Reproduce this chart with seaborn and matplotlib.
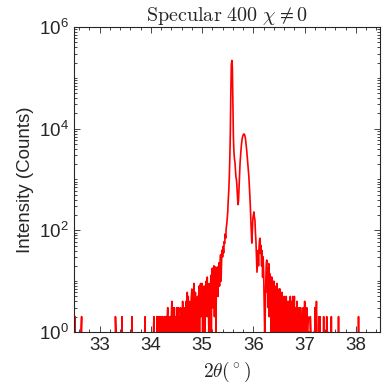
import numpy as np
import pandas as pd
import matplotlib
matplotlib.use("Agg")
import matplotlib.pyplot as plt
import matplotlib.ticker as mticker
import seaborn as sns

# scan: 2theta from 32.50 to 38.50 deg, step 0.01 deg
scan_start = 32.50
scan_step = 0.01

# counts, one row = 0.1 deg (row start angle in the comment)
counts = [
    0, 1, 2, 0, 0, 0, 0, 0, 0, 0,            # 32.5
    0, 0, 0, 0, 1, 2, 0, 0, 0, 0,            # 32.6
    0, 0, 0, 0, 0, 0, 0, 0, 0, 0,            # 32.7
    0, 0, 0, 0, 0, 0, 0, 0, 0, 0,            # 32.8
    0, 0, 0, 0, 0, 0, 0, 0, 0, 0,            # 32.9
    0, 0, 0, 0, 0, 0, 0, 0, 0, 0,            # 33.0
    0, 0, 0, 0, 0, 0, 0, 0, 0, 0,            # 33.1
    0, 0, 0, 0, 0, 0, 0, 0, 0, 0,            # 33.2
    0, 2, 1, 0, 0, 0, 0, 0, 0, 0,            # 33.3
    0, 0, 0, 0, 2, 0, 0, 0, 0, 0,            # 33.4
    0, 0, 0, 0, 0, 0, 0, 0, 0, 0,            # 33.5
    0, 0, 0, 2, 0, 0, 0, 0, 0, 0,            # 33.6
    0, 0, 0, 0, 0, 0, 0, 0, 0, 0,            # 33.7
    0, 0, 0, 0, 0, 0, 0, 0, 1, 2,            # 33.8
    0, 0, 0, 0, 0, 0, 0, 0, 0, 0,            # 33.9
    0, 0, 0, 0, 0, 1, 2, 0, 0, 0,            # 34.0
    0, 0, 2, 1, 2, 0, 1, 2, 0, 0,            # 34.1
    2, 0, 2, 1, 0, 1, 2, 0, 2, 0,            # 34.2
    2, 1, 2, 3, 1, 0, 2, 1, 2, 1,            # 34.3
    2, 4, 1, 3, 0, 2, 3, 1, 2, 0,            # 34.4
    1, 3, 0, 2, 3, 1, 2, 0, 3, 1,            # 34.5
    2, 0, 4, 1, 3, 0, 2, 3, 1, 4,            # 34.6
    1, 6, 2, 5, 0, 3, 4, 1, 2, 5,            # 34.7
    7, 1, 3, 2, 9, 0, 4, 6, 1, 3,            # 34.8
    2, 5, 0, 4, 8, 1, 6, 9, 2, 4,            # 34.9
    9, 1, 5, 3, 8, 0, 6, 2, 10, 3,           # 35.0
    12, 2, 7, 1, 9, 4, 3, 13, 1, 8,          # 35.1
    18, 3, 10, 20, 2, 12, 19, 1, 14, 6,      # 35.2
    19, 5, 12, 23, 8, 20, 33, 10, 25, 41,    # 35.3
    30, 48, 36, 60, 55, 85, 70, 110, 130, 170,                       # 35.4
    230, 400, 600, 1100, 2500, 8000, 50000, 180000, 220000, 160000,  # 35.5
    30000, 7000, 3500, 2600, 2200, 1500, 1100, 1000, 700, 450,       # 35.6
    320, 380, 700, 1300, 2100, 3000, 4000, 5200, 6200, 7000,         # 35.7
    7500, 7800, 7800, 7500, 6800, 5800, 4700, 3700, 2800, 2100,      # 35.8
    1600, 1200, 800, 500, 300, 160, 90, 56, 100, 170,                # 35.9
    200, 230, 180, 160, 90, 60, 30, 15, 25, 40,  # 36.0
    20, 45, 65, 70, 35, 50, 20, 40, 12, 30,      # 36.1
    15, 4, 1, 2, 8, 20, 26, 6, 18, 3,            # 36.2
    22, 2, 14, 5, 12, 1, 12, 0, 9, 3,            # 36.3
    10, 1, 6, 0, 8, 2, 9, 0, 5, 1,               # 36.4
    7, 0, 7, 2, 5, 1, 6, 0, 4, 2,                # 36.5
    5, 1, 4, 0, 5, 2, 3, 0, 4, 1,                # 36.6
    3, 0, 5, 1, 4, 2, 0, 5, 1, 3,                # 36.7
    5, 0, 3, 1, 2, 4, 0, 2, 1, 3,                # 36.8
    2, 0, 3, 1, 2, 0, 2, 3, 0, 1,                # 36.9
    4, 1, 2, 0, 3, 1, 2, 0, 1, 0,                # 37.0
    0, 2, 1, 0, 0, 0, 0, 0, 1, 0,                # 37.1
    3, 1, 2, 4, 1, 0, 0, 0, 2, 0,                # 37.2
    2, 0, 0, 0, 0, 0, 0, 2, 0, 0,                # 37.3
    0, 0, 0, 2, 0, 1, 0, 0, 0, 0,                # 37.4
    0, 0, 2, 0, 0, 0, 0, 0, 0, 0,                # 37.5
    0, 0, 0, 0, 0, 0, 2, 0, 0, 0,                # 37.6
    0, 0, 0, 0, 0, 0, 0, 0, 0, 0,                # 37.7
    0, 0, 0, 0, 0, 0, 0, 0, 0, 0,                # 37.8
    0, 0, 0, 0, 0, 0, 0, 0, 0, 0,                # 37.9
    0, 0, 0, 0, 0, 2, 0, 0, 0, 0,                # 38.0
    0, 0, 0, 0, 0, 0, 0, 0, 0, 0,                # 38.1
    0, 0, 0, 0, 0, 0, 0, 0, 0, 0,                # 38.2
    0, 0, 0, 0, 0, 0, 0, 0, 0, 0,                # 38.3
    0, 0, 0, 0, 0, 0, 0, 0, 0, 0,                # 38.4
    0,                                           # 38.5
]

x_ticks = [33, 34, 35, 36, 37, 38]
y_ticks = [1e0, 1e2, 1e4, 1e6]

two_theta = np.round(scan_start + scan_step * np.arange(len(counts)), 2)
df = pd.DataFrame({"two_theta": two_theta, "counts": counts})

sns.set_style("ticks")
plt.rcParams["font.family"] = ["Liberation Sans", "DejaVu Sans"]
plt.rcParams["mathtext.fontset"] = "cm"

fig = plt.figure(figsize=(3.89, 3.91), dpi=100)
ax = fig.add_axes([0.190, 0.151, 0.787, 0.780])

sns.lineplot(data=df, x="two_theta", y="counts", ax=ax, color="red",
             linewidth=1.2, estimator=None, sort=False)
ax.set_yscale("log")

ax.set_xlim(32.5, 38.47)
ax.set_ylim(1, 1e6)
ax.set_xticks(x_ticks)
ax.set_yticks(y_ticks)
ax.xaxis.set_minor_locator(mticker.MultipleLocator(0.2))
ax.yaxis.set_minor_locator(mticker.LogLocator(base=10, subs=np.arange(1, 10), numticks=20))
ax.yaxis.set_minor_formatter(mticker.NullFormatter())

ax.tick_params(which="both", direction="in", top=True, right=True,
               colors="0.15", labelsize=13.5, width=0.6)
ax.tick_params(which="major", length=4)
ax.tick_params(which="minor", length=2.5)
for s in ax.spines.values():
    s.set_linewidth(0.8)
    s.set_color("0.15")

ax.set_title(r"$\mathrm{Specular\ 400}\ \chi \neq 0$", fontsize=14.5, pad=4)
ax.set_xlabel(r"$2\theta(^\circ)$", fontsize=14, color="0.15")
ax.set_ylabel("Intensity (Counts)", fontsize=13.5, color="0.15")

fig.savefig("out.png", dpi=100)
